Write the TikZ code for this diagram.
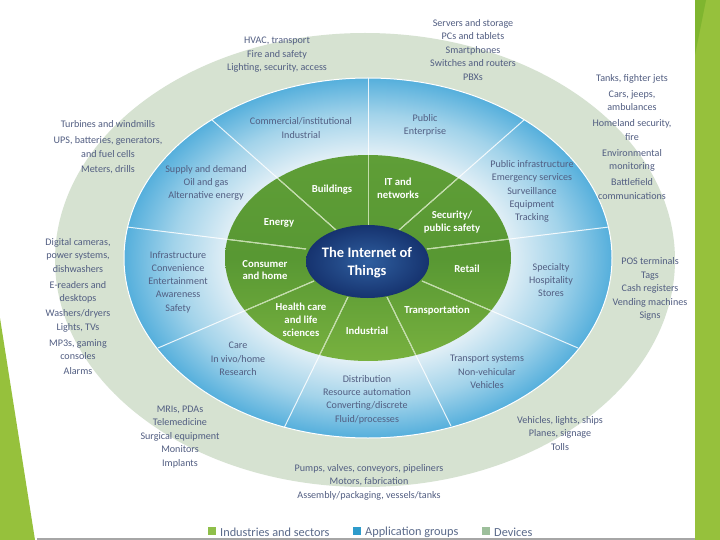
\documentclass[tikz,border=0pt]{standalone}
\usepackage{fontspec}
\setmainfont{Carlito}
\usetikzlibrary{shapes.geometric}
\definecolor{devicering}{HTML}{D6E2D1}
\definecolor{bandgreen}{HTML}{96C13C}
\definecolor{banddark}{HTML}{7FB52F}
\definecolor{labelblue}{HTML}{525E82}
\definecolor{legendgrey}{HTML}{5A6A8A}
\definecolor{ringedge}{HTML}{55AFDC}
\definecolor{ringmid}{HTML}{A2D3EA}
\definecolor{ringpale}{HTML}{E6F1F7}
\definecolor{greentop}{HTML}{5F9E37}
\definecolor{greenmid}{HTML}{589833}
\definecolor{greenlow}{HTML}{78B13F}
\definecolor{hubin}{HTML}{2F5F9F}
\definecolor{hubout}{HTML}{16336F}
\definecolor{keysector}{HTML}{8FBF4A}
\definecolor{keygroup}{HTML}{2E9BCB}
\definecolor{keydevice}{HTML}{9DBF9B}
\pgfdeclareradialshading{ringshade}{\pgfpoint{0bp}{0bp}}{color(0bp)=(ringpale); color(14bp)=(ringpale); color(20bp)=(ringmid); color(25bp)=(ringedge); color(50bp)=(ringedge)}
\pgfdeclareradialshading{hubshade}{\pgfpoint{0bp}{0bp}}{color(0bp)=(hubin); color(25bp)=(hubout); color(50bp)=(hubout)}
\tikzset{
  devlabel/.style={align=center,text=labelblue,inner sep=0pt,font=\fontsize{10.1}{13.5}\selectfont},
  grouplabel/.style={align=center,text=labelblue,inner sep=0pt,font=\fontsize{10.1}{13.3}\selectfont},
  sectorlabel/.style={align=center,text=white,inner sep=0pt,font=\fontsize{10.7}{12.8}\selectfont\bfseries},
  legendbox/.style={inner sep=0pt,minimum size=8pt},
  legendtext/.style={anchor=west,inner sep=0pt,text=legendgrey,font=\fontsize{12.3}{15}\selectfont},
  spokeblue/.style={draw=white,line width=1pt,opacity=0.85},
  spokegreen/.style={draw=greenlow!45!white,line width=1pt}
}
\begin{document}
\begin{tikzpicture}[x=1pt,y=-1pt]
\useasboundingbox (0,0) rectangle (720,540);
\fill[white] (0,0) rectangle (720,540);
% slide decoration
\fill[bandgreen] (695,0) rectangle (720,540);
\fill[banddark] (695,0) -- (706,0) -- (695,55) -- cycle;
\fill[bandgreen] (0,318) -- (35,540) -- (0,540) -- cycle;
\fill[black!35] (37,537.5) rectangle (695,540);
% rings
\fill[devicering] (365,260) ellipse (310 and 227);
\path[draw=white,line width=1pt,shading=ringshade] (368,258) ellipse (244 and 180);
\path[top color=greentop,bottom color=greenlow,middle color=greenmid] (368,258) ellipse (143 and 103);
% spokes
\coordinate (a1) at (368,225);
\coordinate (b1) at (368,78);
\coordinate (a2) at (399,230);
\coordinate (b2) at (524,120);
\coordinate (a3) at (427,249);
\coordinate (b3) at (609,227);
\coordinate (a4) at (422,281);
\coordinate (b4) at (578,348);
\coordinate (a5) at (387,297);
\coordinate (b5) at (451,426);
\coordinate (a6) at (348,297);
\coordinate (b6) at (284,428);
\coordinate (a7) at (314,281);
\coordinate (b7) at (158,348);
\coordinate (a8) at (306,249);
\coordinate (b8) at (127,227);
\coordinate (a9) at (336,230);
\coordinate (b9) at (212,120);
\path[spokeblue] (a1) -- (b1);
\path[spokeblue] (a2) -- (b2);
\path[spokeblue] (a3) -- (b3);
\path[spokeblue] (a4) -- (b4);
\path[spokeblue] (a5) -- (b5);
\path[spokeblue] (a6) -- (b6);
\path[spokeblue] (a7) -- (b7);
\path[spokeblue] (a8) -- (b8);
\path[spokeblue] (a9) -- (b9);
\begin{scope}
\clip (368,258) ellipse (143 and 103);
\path[spokegreen] (a1) -- (b1);
\path[spokegreen] (a2) -- (b2);
\path[spokegreen] (a3) -- (b3);
\path[spokegreen] (a4) -- (b4);
\path[spokegreen] (a5) -- (b5);
\path[spokegreen] (a6) -- (b6);
\path[spokegreen] (a7) -- (b7);
\path[spokegreen] (a8) -- (b8);
\path[spokegreen] (a9) -- (b9);
\end{scope}
% hub
\path[shading=hubshade] (367.5,261.5) ellipse (61.5 and 36.5);
\node[align=center,text=white,inner sep=0pt,font=\fontsize{14.5}{18}\selectfont\bfseries] (hub) at (367,263) {The Internet of\\Things};
% industries and sectors
\node[sectorlabel] (buildings) at (332,190) {Buildings};
\node[sectorlabel] (itnet) at (398,188) {IT and\\networks};
\node[sectorlabel] (security) at (452,222) {Security/\\public safety};
\node[sectorlabel] (retail) at (467,269) {Retail};
\node[sectorlabel] (transportation) at (437,311) {Transportation};
\node[sectorlabel] (industrial) at (367,331) {Industrial};
\node[sectorlabel] (health) at (301,319.5) {Health care\\and life\\sciences};
\node[sectorlabel] (consumer) at (265,270) {Consumer\\and home};
\node[sectorlabel] (energy) at (279,223) {Energy};
% application groups
\node[grouplabel] (commercial) at (301,128) {Commercial/institutional\\Industrial};
\node[grouplabel] (public) at (425,125.5) {Public\\Enterprise};
\node[grouplabel] (infra) at (532,191.5) {Public infrastructure\\Emergency services\\Surveillance\\Equipment\\Tracking};
\node[grouplabel] (specialty) at (551,280) {Specialty\\Hospitality\\Stores};
\node[grouplabel] (transport) at (487,372) {Transport systems\\Non-vehicular\\Vehicles};
\node[grouplabel] (distribution) at (367,399.5) {Distribution\\Resource automation\\Converting/discrete\\Fluid/processes};
\node[grouplabel] (care) at (238,359) {Care\\In vivo/home\\Research};
\node[grouplabel] (convenience) at (178,282) {Infrastructure\\Convenience\\Entertainment\\Awareness\\Safety};
\node[grouplabel] (supply) at (206,183) {Supply and demand\\Oil and gas\\Alternative energy};
% devices
\node[devlabel] (servers) at (473,50) {Servers and storage\\PCs and tablets\\Smartphones\\Switches and routers\\PBXs};
\node[devlabel] (hvac) at (277,55) {HVAC, transport\\Fire and safety\\Lighting, security, access};
\node[devlabel] (tanks) at (632,137) {Tanks, fighter jets\\[2.5pt]Cars, jeeps,\\ambulances\\[2.5pt]Homeland security,\\fire\\[2.5pt]Environmental\\monitoring\\[2.5pt]Battlefield\\communications};
\node[devlabel] (turbines) at (108,147) {Turbines and windmills\\[3pt]UPS, batteries, generators,\\and fuel cells\\[2pt]Meters, drills};
\node[devlabel] (cameras) at (78,306.5) {Digital cameras,\\power systems,\\dishwashers\\[2.5pt]E-readers and\\desktops\\[1pt]Washers/dryers\\[1pt]Lights, TVs\\[2pt]MP3s, gaming\\consoles\\[1.5pt]Alarms};
\node[devlabel] (pos) at (650,289) {POS terminals\\Tags\\Cash registers\\Vending machines\\Signs};
\node[devlabel] (mris) at (180,437) {MRIs, PDAs\\Telemedicine\\Surgical equipment\\Monitors\\Implants};
\node[devlabel] (vehicles) at (560,433.5) {Vehicles, lights, ships\\Planes, signage\\Tolls};
\node[devlabel] (pumps) at (369,482) {Pumps, valves, conveyors, pipeliners\\Motors, fabrication\\Assembly/packaging, vessels/tanks};
% legend
\node[legendbox,fill=keysector] (keya) at (212,531) {};
\node[legendtext] (keyatext) at (220,532) {Industries and sectors};
\node[legendbox,fill=keygroup] (keyb) at (357,531) {};
\node[legendtext] (keybtext) at (365,532) {Application groups};
\node[legendbox,fill=keydevice] (keyc) at (486,531) {};
\node[legendtext] (keyctext) at (494,532) {Devices};
\end{tikzpicture}
\end{document}
